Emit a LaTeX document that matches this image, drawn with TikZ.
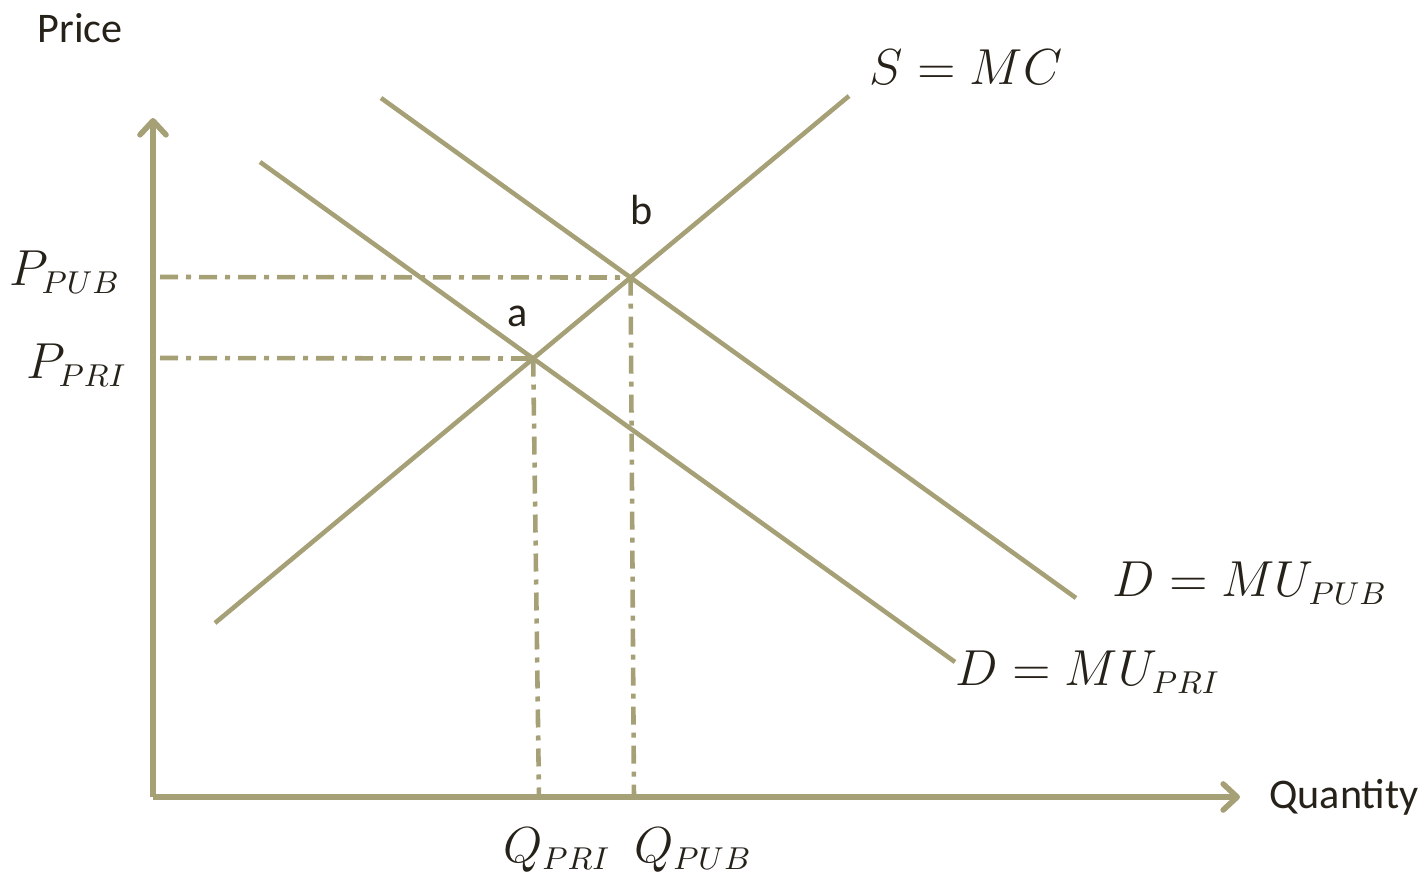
\documentclass[tikz,border=0pt]{standalone}
\usepackage{fontspec}
\setmainfont{Carlito}
\usetikzlibrary{positioning, arrows.meta, calc, intersections}

\definecolor{curvecol}{RGB}{166,160,118}
\definecolor{textcol}{RGB}{38,34,26}

\begin{document}
\begin{tikzpicture}[
			curve/.style={draw=curvecol, line width=1.3pt},
			axis/.style={draw=curvecol, line width=1.6pt, -{Straight Barb[length=1.4mm, width=2.6mm, line cap=round, line join=round]}},
			guide/.style={draw=curvecol, line width=1.3pt, dash pattern=on 0.18cm off 0.08cm on 0.05cm off 0.08cm},
			lbl/.style={text=textcol, font=\fontsize{12}{14}\selectfont, inner sep=0pt},
			mlbl/.style={text=textcol, font=\fontsize{13.5}{16}\selectfont, inner sep=0pt}
			]
			\useasboundingbox (0,0) rectangle (14.25,8.74);
			
			% Axes
			\coordinate (origin) at (1.53,0.77);
			\coordinate (ytop) at (1.53,7.56);
			\coordinate (xend) at (12.40,0.77);
			\draw[axis] (origin) -- (ytop);
			\draw[axis] (origin) -- (xend);
			\node[lbl] (price) at (0.80,8.46) {Price};
			\node[lbl] (quantity) at (13.44,0.77) {Quantity};
			
			% Supply curve
			\coordinate (s_lo) at (2.15,2.51);
			\coordinate (s_hi) at (8.49,7.78);
			\draw[curve, name path=supply] (s_lo) -- (s_hi);
			\node[mlbl] (s_lab) at (9.66,8.07) {$S=MC$};
			
			% Demand, public
			\coordinate (dpub_hi) at (3.81,7.76);
			\coordinate (dpub_lo) at (10.76,2.76);
			\draw[curve, name path=dpub] (dpub_hi) -- (dpub_lo);
			\node[mlbl] (dpub_lab) at (12.50,2.91) {$D=MU_{PUB}$};
			
			% Demand, private
			\coordinate (dpri_hi) at (2.60,7.12);
			\coordinate (dpri_lo) at (9.55,2.12);
			\draw[curve, name path=dpri] (dpri_hi) -- (dpri_lo);
			\node[mlbl] (dpri_lab) at (10.88,2.02) {$D=MU_{PRI}$};
			
			% Equilibria
			\path[name intersections={of=supply and dpri, by=a}];
			\path[name intersections={of=supply and dpub, by=b}];
			\node[lbl] (a_lab) at (5.18,5.58) {a};
			\node[lbl] (b_lab) at (6.42,6.64) {b};
			
			% Guide lines
			\coordinate (ppub) at (1.60,5.97);
			\coordinate (ppri) at (1.60,5.16);
			\coordinate (qpri) at (5.39,0.77);
			\coordinate (qpub) at (6.34,0.77);
			\draw[guide] (ppub) -- (b);
			\draw[guide] (ppri) -- (a);
			\draw[guide] (a) -- (qpri);
			\draw[guide] (b) -- (qpub);
			
			\node[mlbl] (ppub_lab) at (0.65,6.02) {$P_{PUB}$};
			\node[mlbl] (ppri_lab) at (0.77,5.09) {$P_{PRI}$};
			\node[mlbl] (qpri_lab) at (5.57,0.24) {$Q_{PRI}$};
			\node[mlbl] (qpub_lab) at (6.93,0.24) {$Q_{PUB}$};
			
		\end{tikzpicture}
\end{document}
